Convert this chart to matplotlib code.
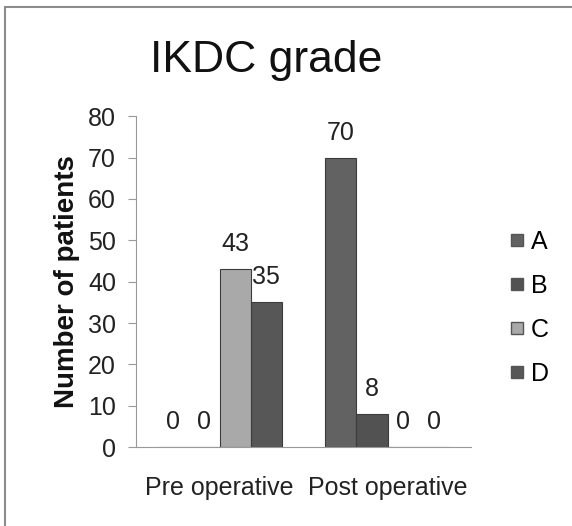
import matplotlib.pyplot as plt
import numpy as np
from matplotlib.patches import Rectangle

plt.rcParams['font.family'] = ['Liberation Sans', 'DejaVu Sans']

categories = ["Pre operative", "Post operative"]
series = ["A", "B", "C", "D"]
values = {
    "A": [0, 70],
    "B": [0, 8],
    "C": [43, 0],
    "D": [35, 0],
}
colors = {"A": "#626262", "B": "#525252", "C": "#a9a9a9", "D": "#575757"}
yticks = [0, 10, 20, 30, 40, 50, 60, 70, 80]

fig = plt.figure(figsize=(5.72, 5.26), dpi=100)
fig.patches.append(Rectangle((0.009, -0.1), 1.2, 1.087, transform=fig.transFigure,
                             fill=False, edgecolor="#8c8c8c", linewidth=1.5))
ax = fig.add_axes([0.2369, 0.150, 0.5874, 0.629])

x = np.arange(len(categories))
w = 0.185
for i, s in enumerate(series):
    pos = x + (i - 1.5) * w
    ax.bar(pos, values[s], width=w, color=colors[s], edgecolor="#3c3c3c",
           linewidth=0.8, label=s)
    for p, v in zip(pos, values[s]):
        ax.annotate(str(v), (p, v), xytext=(0, 18), textcoords="offset points",
                    ha="center", va="center", fontsize=18, color="#222222")

ax.set_xlim(-0.5, 1.5)
ax.set_ylim(0, 80)
ax.set_yticks(yticks)
ax.set_xticks(x)
ax.set_xticklabels(categories, fontsize=18, color="#222222")
ax.tick_params(axis="x", length=0, pad=21)
ax.tick_params(axis="y", labelsize=18, labelcolor="#222222", direction="out",
               length=6, color="#999999", pad=8)
for sp in ["top", "right"]:
    ax.spines[sp].set_visible(False)
ax.spines["left"].set_color("#999999")
ax.spines["bottom"].set_color("#999999")
ax.set_ylabel("Number of patients", fontsize=20, fontweight="bold", labelpad=6,
              color="#111111")

fig.text(0.465, 0.863, "IKDC grade", ha="center", va="baseline", fontsize=32,
         color="#111111")

handles = [plt.Line2D([], [], marker="s", linestyle="none", markersize=9,
                      markerfacecolor=colors[s], markeredgecolor="#555555") for s in series]
fig.legend(handles, series, loc="center left", bbox_to_anchor=(0.886, 0.415),
           frameon=False, fontsize=18, handletextpad=0.15, labelspacing=0.8,
           handlelength=0.8, borderpad=0, borderaxespad=0)

fig.savefig("out.png", dpi=100)
